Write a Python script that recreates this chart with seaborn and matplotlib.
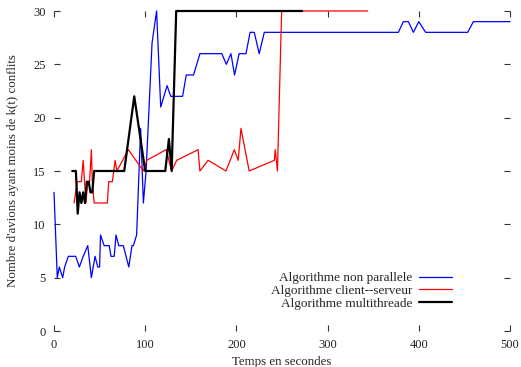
import matplotlib
matplotlib.use("Agg")
import matplotlib.pyplot as plt
import seaborn as sns
import pandas as pd

# Algorithme non parallele
blue_x = [0, 3.6, 5.8, 9.5, 11.7, 15.7, 23.8, 27.8, 32, 37, 41, 45, 48, 50, 51, 55, 60.6, 62.5, 66, 68, 71, 76, 82,
          85.5, 87, 90.6, 95, 98, 101, 107.5, 112.5, 117, 124, 128, 141, 145, 153, 160, 184, 189, 194, 198, 203,
          210.5, 215, 219.6, 225, 230.6, 377.6, 383, 388.6, 394, 400, 407.5, 453.6, 459.8, 500]
blue_y = [13, 5, 6, 5, 6, 7, 7, 6, 7, 8, 5, 7, 6, 6, 9, 8, 8, 7, 7, 9, 8, 8, 6,
          8, 8, 9, 19, 12, 15, 27, 30, 21, 23, 22, 22, 24, 24, 26, 26, 25, 26, 24, 26,
          26, 28, 28, 26, 28, 28, 29, 29, 28, 29, 28, 28, 29, 29]

# Algorithme client--serveur
red_x = [22, 25.5, 30, 32, 35, 37, 39, 41, 42, 44, 58.5, 60, 64, 67, 69, 81.5, 98, 101.6, 123, 129, 134.5,
         158, 160, 169, 188.6, 197.7, 202, 205, 214, 241.6, 242.6, 245, 249.6, 344]
red_y = [12, 14, 14, 16, 12, 14, 14, 17, 14, 12, 12, 14, 14, 16, 15, 17, 15, 16, 17, 15, 16,
         17, 15, 16, 15, 17, 16, 19, 15, 16, 17, 15, 30, 30]

# Algorithme multithreade
black_x = [20, 24, 26, 28, 30, 32, 34, 36, 38, 40, 42, 44, 77, 88, 100, 122, 126, 129, 134, 272]
black_y = [15, 15, 11, 13, 12, 13, 12, 14, 14, 13, 13, 15, 15, 22, 15, 15, 18, 15, 30, 30]

labels = ["Algorithme non parallele", "Algorithme client--serveur", "Algorithme multithreade"]
x_ticks = [0, 100, 200, 300, 400, 500]
y_ticks = [0, 5, 10, 15, 20, 25, 30]

sns.set_style("white")
plt.rcParams["font.family"] = ["Liberation Serif", "DejaVu Serif"]

fig = plt.figure(figsize=(5.21, 3.67), dpi=100)
ax = fig.add_axes([54 / 521, 1 - 331 / 367, 456 / 521, 320 / 367])

series = [(blue_x, blue_y, "#0000ff", 0.9), (red_x, red_y, "#ff0000", 0.9), (black_x, black_y, "#000000", 1.6)]
for (xs, ys, c, lw), lab in zip(series, labels):
    df = pd.DataFrame({"t": xs, "n": ys})
    sns.lineplot(data=df, x="t", y="n", sort=False, estimator=None, color=c, linewidth=lw,
                 label=lab, ax=ax, clip_on=False)

ax.set_xlim(0, 500)
ax.set_ylim(0, 30)
ax.set_xticks(x_ticks)
ax.set_yticks(y_ticks)
for s in ax.spines.values():
    s.set_visible(False)
ax.tick_params(direction="in", length=4, width=0.8, color="#333333",
               top=True, right=True, bottom=True, left=True,
               labelsize=9, labelcolor="#222222", pad=6)
ax.set_xlabel("Temps en secondes", fontsize=9.3, labelpad=3)
ax.set_ylabel("Nombre d'avions ayant moins de k(t) conflits", fontsize=9.3, labelpad=10)

leg = ax.legend(loc="lower right", bbox_to_anchor=((452 - 54) / 456, (331 - 310) / 320),
                frameon=False, markerfirst=False, fontsize=9.5, handlelength=2.5,
                handletextpad=0.5, labelspacing=0.05, borderpad=0, borderaxespad=0)
for t in leg.get_texts():
    t.set_ha("right")

fig.savefig("out.png", dpi=100)
